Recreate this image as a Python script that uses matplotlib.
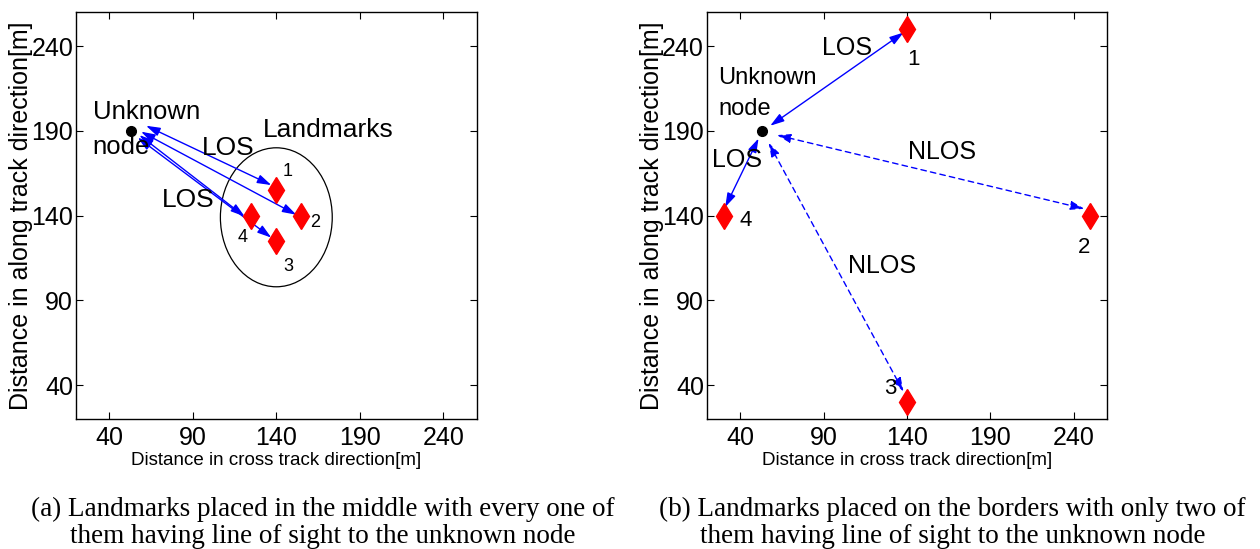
import matplotlib
matplotlib.use("Agg")
import matplotlib.pyplot as plt
from matplotlib.patches import Ellipse

plt.rcParams["font.family"] = ["Liberation Sans", "DejaVu Sans"]

TICKS = [40, 90, 140, 190, 240]
LIM = (20, 260)

# unknown node (both panels)
node = (53, 190)

# (a) landmarks in the middle
lm_a_x = [140, 155, 140, 125]
lm_a_y = [155, 140, 125, 140]
lm_a_ids = ["1", "2", "3", "4"]
# arrow endpoints (node side, landmark side)
arr_a_start = [(62, 193), (59, 189.5), (57, 186), (58, 187.5)]
arr_a_end = [(137, 158), (152, 140.5), (137, 127), (121, 139.5)]
lbl_a_pos = [(147, 166), (163, 136), (147, 110), (120, 127)]

# (b) landmarks on the borders
lm_b_x = [140, 250, 140, 30]
lm_b_y = [250, 140, 30, 140]
lm_b_ids = ["1", "2", "3", "4"]
arr_b_start = [(58, 193), (62, 187.5), (57, 183), (51, 185.5)]
arr_b_end = [(138, 248), (246.5, 144), (138, 36), (31, 145)]
arr_b_style = ["solid", "dashed", "dashed", "solid"]
lbl_b_pos = [(144, 232), (246, 121), (130, 38), (43, 137)]

captions = [
    "(a) Landmarks placed in the middle with every one of\nthem having line of sight to the unknown node",
    "(b) Landmarks placed on the borders with only two of\nthem having line of sight to the unknown node",
]


def style_axes(ax):
    ax.set_xlim(*LIM)
    ax.set_ylim(*LIM)
    ax.set_xticks(TICKS)
    ax.set_yticks(TICKS)
    ax.tick_params(direction="in", top=True, right=True, length=5, width=0.8,
                   labelsize=18)
    ax.tick_params(axis="x", pad=5)
    ax.tick_params(axis="y", pad=2)
    for s in ax.spines.values():
        s.set_linewidth(1.0)
    ax.set_xlabel("Distance in cross track direction[m]", fontsize=13.5)
    ax.set_ylabel("Distance in along track direction[m]", fontsize=18)
    ax.xaxis.set_label_coords(0.5, -0.081)
    ax.yaxis.set_label_coords(-0.107, 0.5)


def draw_arrow(ax, p0, p1, ls="solid"):
    ax.annotate("", xy=p1, xytext=p0,
                arrowprops=dict(arrowstyle="<|-|>,head_length=0.7,head_width=0.22",
                                color="blue", lw=1.0, linestyle=ls,
                                shrinkA=0, shrinkB=0, mutation_scale=12))


fig = plt.figure(figsize=(12.6, 5.49), dpi=100)
ax1 = fig.add_axes([0.0603, 0.2368, 0.318, 0.741])
ax2 = fig.add_axes([0.561, 0.2368, 0.3175, 0.741])

# ---- panel (a)
ax1.add_patch(Ellipse((140, 139), 67, 82, fill=False, color="black", lw=0.9))
for p0, p1 in zip(arr_a_start, arr_a_end):
    draw_arrow(ax1, p0, p1)
ax1.plot(lm_a_x, lm_a_y, "d", color="red", ms=13, ls="none", zorder=3)
ax1.plot(*node, "o", color="black", ms=7, zorder=4)
for t, (x, y) in zip(lm_a_ids, lbl_a_pos):
    ax1.text(x, y, t, fontsize=13, ha="center", va="center")
ax1.text(30, 201, "Unknown", fontsize=18.5, ha="left", va="center")
ax1.text(30, 180.5, "node", fontsize=18.5, ha="left", va="center")
ax1.text(111, 180, "LOS", fontsize=19, ha="center", va="center")
ax1.text(87, 149, "LOS", fontsize=19, ha="center", va="center")
ax1.text(171, 190.5, "Landmarks", fontsize=19, ha="center", va="center")
style_axes(ax1)

# ---- panel (b)
for p0, p1, ls in zip(arr_b_start, arr_b_end, arr_b_style):
    draw_arrow(ax2, p0, p1, ls=ls if ls == "solid" else (0, (4, 3)))
ax2.plot(lm_b_x, lm_b_y, "d", color="red", ms=13, ls="none", zorder=3, clip_on=False)
ax2.plot(*node, "o", color="black", ms=7, zorder=4)
for t, (x, y) in zip(lm_b_ids, lbl_b_pos):
    ax2.text(x, y, t, fontsize=16, ha="center", va="center")
ax2.text(27, 221, "Unknown", fontsize=17, ha="left", va="center")
ax2.text(27, 203, "node", fontsize=17, ha="left", va="center")
ax2.text(104, 239, "LOS", fontsize=18, ha="center", va="center")
ax2.text(38, 173, "LOS", fontsize=18, ha="center", va="center")
ax2.text(161, 177.5, "NLOS", fontsize=18, ha="center", va="center")
ax2.text(125, 110, "NLOS", fontsize=18, ha="center", va="center")
style_axes(ax2)

# ---- captions
fig.text(0.256, 0.0474, captions[0], fontsize=19.5, family=["Liberation Serif"],
         ha="center", va="center", linespacing=1.1)
fig.text(0.756, 0.0474, captions[1], fontsize=19.5, family=["Liberation Serif"],
         ha="center", va="center", linespacing=1.1)

fig.savefig("out.png", dpi=100)
